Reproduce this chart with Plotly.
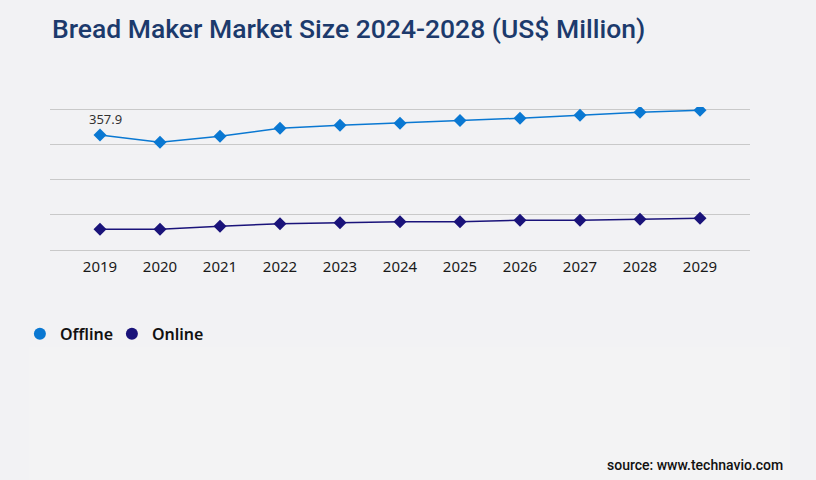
import plotly.graph_objects as go

# values (US$ million)
years = ['2019', '2020', '2021', '2022', '2023', '2024', '2025', '2026', '2027', '2028', '2029']
offline = [357.9, 335.4, 354.1, 379.0, 388.3, 394.6, 402.7, 410.1, 419.5, 428.8, 435.0]
online = [64.5, 64.5, 73.8, 81.9, 85.0, 88.1, 88.1, 92.5, 92.5, 95.6, 98.7]

BG = '#f2f2f4'
OFFLINE_COL = '#0a78d2'
ONLINE_COL = '#1a137a'

fig = go.Figure()

for name, vals, col in [('Offline', offline, OFFLINE_COL), ('Online', online, ONLINE_COL)]:
    fig.add_trace(go.Scatter(
        x=years, y=vals, name=name, mode='lines+markers', showlegend=False,
        line=dict(color=col, width=1.5),
        marker=dict(symbol='diamond', size=10, color=col),
    ))
    # legend entry only shows a round dot
    fig.add_trace(go.Scatter(
        x=[None], y=[None], name=name, mode='markers',
        marker=dict(symbol='circle', size=12, color=col),
    ))

# only the first point carries a label
fig.add_annotation(x=0, y=offline[0], text='%.1f' % offline[0],
                   showarrow=False, yshift=16, xshift=6,
                   font=dict(family='Noto Sans', size=13, color='#333333'))

fig.add_annotation(xref='paper', yref='paper', x=0, y=1.55,
                   xanchor='left', yanchor='middle', showarrow=False,
                   text='Bread Maker Market Size 2024-2028 (US$ Million)',
                   font=dict(family='Roboto', size=26.5, color='#1c3a6c', weight=500))

fig.add_annotation(xref='paper', yref='paper', x=1.05, y=-1.504,
                   xanchor='right', yanchor='middle', showarrow=False,
                   text='source: www.technavio.com',
                   font=dict(family='Roboto', size=14, color='#111111', weight=500))

# faint lighter panel under the legend
fig.add_shape(type='rect', xref='paper', yref='paper',
              x0=-0.029, x1=1.057, y0=-0.68, y1=-1.62,
              fillcolor='#f3f3f4', line_width=0, layer='below')

fig.update_layout(
    width=816, height=480,
    margin=dict(l=50, r=66, t=107, b=230),
    paper_bgcolor=BG, plot_bgcolor=BG,
    showlegend=True,
    legend=dict(orientation='h', x=-0.043, y=-0.587, xanchor='left', yanchor='middle',
                font=dict(family='Noto Sans', size=16, color='#111111', weight=600),
                entrywidth=47, bgcolor='rgba(0,0,0,0)'),
    xaxis=dict(type='category', range=[-0.833, 10.833], showgrid=False, zeroline=False,
               showline=False, ticks='', ticklabelstandoff=6,
               tickfont=dict(family='Noto Sans', size=15, color='#1a1a1a')),
    yaxis=dict(range=[0, 445], dtick=109, showticklabels=False, ticks='',
               showgrid=True, gridcolor='#c9c9c9', gridwidth=1,
               zeroline=True, zerolinecolor='#c9c9c9', zerolinewidth=1),
)

fig.write_html('out.html', config={'displayModeBar': False},
               post_script="document.body.style.margin='0';")
